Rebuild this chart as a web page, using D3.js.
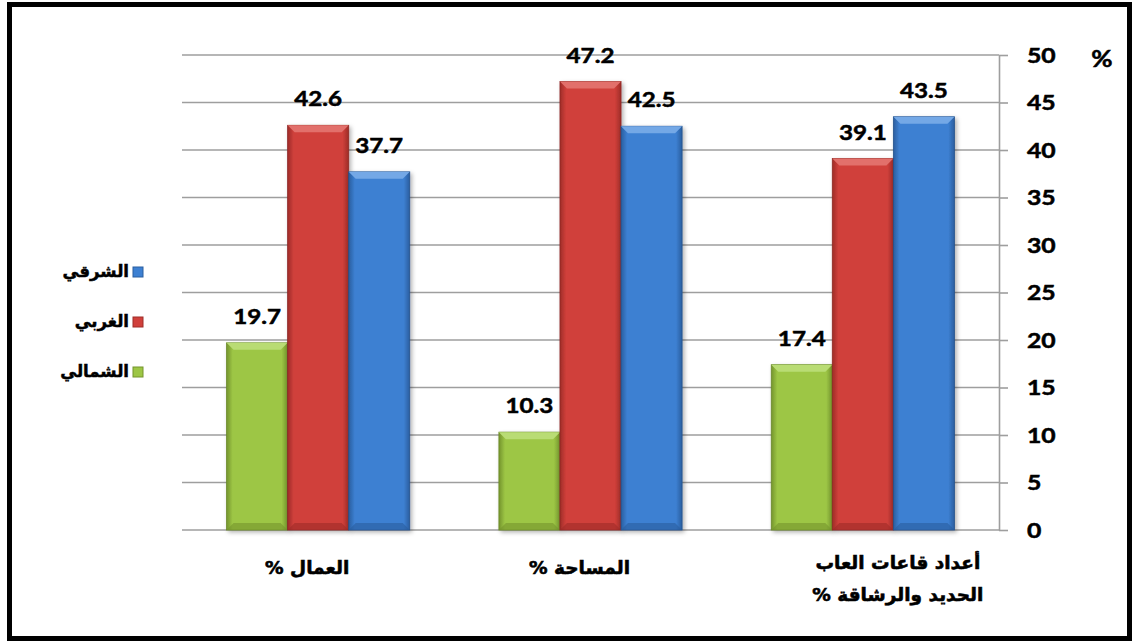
<!DOCTYPE html>
<html><head><meta charset="utf-8">
<script src="https://cdn.jsdelivr.net/npm/d3@7"></script>
<style>body{margin:0;background:#fff}svg{display:block}</style>
</head><body>
<svg id="c" width="1134" height="641"></svg>
<script>
// ---- data ----
const categories = ["العمال %", "المساحة %", "أعداد قاعات العاب الحديد والرشاقة %"];
const categoryLines = [["العمال %"], ["المساحة %"], ["أعداد قاعات العاب", "الحديد والرشاقة %"]];
const seriesNames = ["الشمالي", "الغربي", "الشرقي"];
const shamaliValues = [19.7, 10.3, 17.4];
const gharbiValues = [42.6, 47.2, 39.1];
const sharqiValues = [37.7, 42.5, 43.5];
const yTicks = [0, 5, 10, 15, 20, 25, 30, 35, 40, 45, 50];
const legendOrder = ["الشرقي", "الغربي", "الشمالي"];
const axisUnit = "%";

// ---- styles ----
const palette = {
  "الشمالي": {main: "#9dc645", light: "#b9dc74", dark: "#74942d", edge: "#6b8a2a"},
  "الغربي": {main: "#d0403b", light: "#e2706b", dark: "#9e2c28", edge: "#8e2724"},
  "الشرقي": {main: "#3d80d2", light: "#74a8e6", dark: "#2a5e9f", edge: "#24528c"}
};
const seriesValues = {"الشمالي": shamaliValues, "الغربي": gharbiValues, "الشرقي": sharqiValues};

const svg = d3.select("#c");
const plot = {left: 182, right: 999, top: 55, bottom: 530};

const x0 = d3.scaleBand().domain(categories).range([plot.left, plot.right]).padding(0);
const x1 = d3.scaleBand().domain(seriesNames).range([0, x0.bandwidth()]).paddingInner(0).paddingOuter(0.73);
const y = d3.scaleLinear().domain([0, 50]).range([plot.bottom, plot.top]);

const defs = svg.append("defs");
seriesNames.forEach((s, i) => {
  const c = palette[s];
  const g = defs.append("linearGradient").attr("id", "g" + i).attr("x1", "0").attr("x2", "1").attr("y1", "0").attr("y2", "0");
  g.append("stop").attr("offset", "0").attr("stop-color", c.dark);
  g.append("stop").attr("offset", "0.1").attr("stop-color", c.main);
  g.append("stop").attr("offset", "0.9").attr("stop-color", c.main);
  g.append("stop").attr("offset", "1").attr("stop-color", c.dark);
});
const f = defs.append("filter").attr("id", "sh").attr("x", "-20%").attr("y", "-20%").attr("width", "140%").attr("height", "140%");
f.append("feDropShadow").attr("dx", 2).attr("dy", 2).attr("stdDeviation", 2).attr("flood-color", "#000").attr("flood-opacity", 0.3);

// frame
svg.append("rect").attr("x", 9.5).attr("y", 4.5).attr("width", 1120).attr("height", 634)
  .attr("fill", "#fff").attr("stroke", "#000").attr("stroke-width", 5);

// gridlines
svg.append("g").selectAll("line").data(yTicks).join("line")
  .attr("x1", plot.left).attr("x2", plot.right)
  .attr("y1", d => y(d)).attr("y2", d => y(d))
  .attr("stroke", "#9e9e9e").attr("stroke-width", 1.6);

// right axis
const axis = svg.append("g").attr("transform", `translate(${plot.right},0)`)
  .call(d3.axisRight(y).tickValues(yTicks).tickSize(9).tickSizeOuter(0).tickFormat(""));
axis.select(".domain").attr("stroke", "#9e9e9e").attr("stroke-width", 1.6);
axis.selectAll(".tick line").attr("stroke", "#9e9e9e").attr("stroke-width", 1.6);

const numFont = "Lato, 'Open Sans', sans-serif";
svg.append("g").selectAll("text").data(yTicks).join("text")
  .attr("transform", d => `translate(${plot.right + 28},${y(d)}) scale(1.18,1)`)
  .attr("dy", "0.36em")
  .attr("font-family", numFont).attr("font-weight", 700).attr("font-size", 21)
  .attr("fill", "#000").attr("stroke", "#000").attr("stroke-width", 0.5).text(d => d);

svg.append("text")
  .attr("transform", `translate(${plot.right + 103},${y(50) + 4}) scale(1.18,1)`)
  .attr("text-anchor", "middle").attr("dy", "0.36em")
  .attr("font-family", numFont).attr("font-weight", 700).attr("font-size", 22)
  .attr("stroke", "#000").attr("stroke-width", 0.5)
  .text(axisUnit);

// bars
const bars = [];
seriesNames.forEach((s, si) => {
  categories.forEach((c, ci) => {
    bars.push({s, si, c, ci, v: seriesValues[s][ci]});
  });
});
const bw = x1.bandwidth();
const bevel = 7;
const barG = svg.append("g").selectAll("g").data(bars).join("g")
  .attr("transform", d => `translate(${x0(d.c) + x1(d.s)},0)`);
barG.append("rect")
  .attr("x", 0).attr("width", bw)
  .attr("y", d => y(d.v)).attr("height", d => y(0) - y(d.v))
  .attr("fill", d => `url(#g${d.si})`).attr("filter", "url(#sh)")
  .attr("stroke", d => palette[d.s].edge).attr("stroke-width", 0.8);
barG.append("path")
  .attr("d", d => {
    const t = y(d.v);
    return `M0,${t}L${bw},${t}L${bw - bevel},${t + bevel}L${bevel},${t + bevel}Z`;
  })
  .attr("fill", d => palette[d.s].light);
barG.append("path")
  .attr("d", d => {
    const b = y(0);
    return `M0,${b}L${bw},${b}L${bw - bevel},${b - bevel}L${bevel},${b - bevel}Z`;
  })
  .attr("fill", d => palette[d.s].dark).attr("opacity", 0.6);

// value labels
barG.append("text")
  .attr("transform", d => `translate(${bw / 2},${y(d.v) - 19}) scale(1.18,1)`)
  .attr("text-anchor", "middle")
  .attr("font-family", numFont).attr("font-weight", 700).attr("font-size", 20.5)
  .attr("fill", "#000").attr("stroke", "#000").attr("stroke-width", 0.5)
  .text(d => d.v.toFixed(1));

// category labels
const arFont = "'DejaVu Sans', Arial, sans-serif";
const catG = svg.append("g").selectAll("text").data(categories).join("text")
  .attr("x", (d, i) => x0(d) + x0.bandwidth() / 2 + (categoryLines[i].length > 1 ? 35 : -11))
  .attr("y", (d, i) => categoryLines[i].length > 1 ? 569 : 574)
  .attr("text-anchor", "middle").attr("direction", "rtl")
  .attr("font-family", arFont).attr("font-weight", 700).attr("font-size", 18.5)
  .attr("fill", "#000").attr("stroke", "#000").attr("stroke-width", 0.6);
catG.each(function(d, i) {
  const t = d3.select(this);
  const xx = t.attr("x");
  categoryLines[i].forEach((ln, k) => {
    t.append("tspan").attr("x", xx).attr("dy", k === 0 ? 0 : 32).text(ln);
  });
});

// legend
const lg = svg.append("g").selectAll("g").data(legendOrder).join("g")
  .attr("transform", (d, i) => `translate(0,${272 + i * 50})`);
lg.append("rect").attr("x", 133).attr("y", -5).attr("width", 10).attr("height", 10)
  .attr("fill", d => palette[d].main).attr("stroke", d => palette[d].dark).attr("stroke-width", 1);
lg.append("text").attr("x", 129).attr("y", 0).attr("dy", "0.3em")
  .attr("text-anchor", "end")
  .attr("font-family", arFont).attr("font-weight", 700).attr("font-size", 16.5)
  .attr("fill", "#000").attr("stroke", "#000").attr("stroke-width", 0.5).text(d => d);
</script>
</body></html>
